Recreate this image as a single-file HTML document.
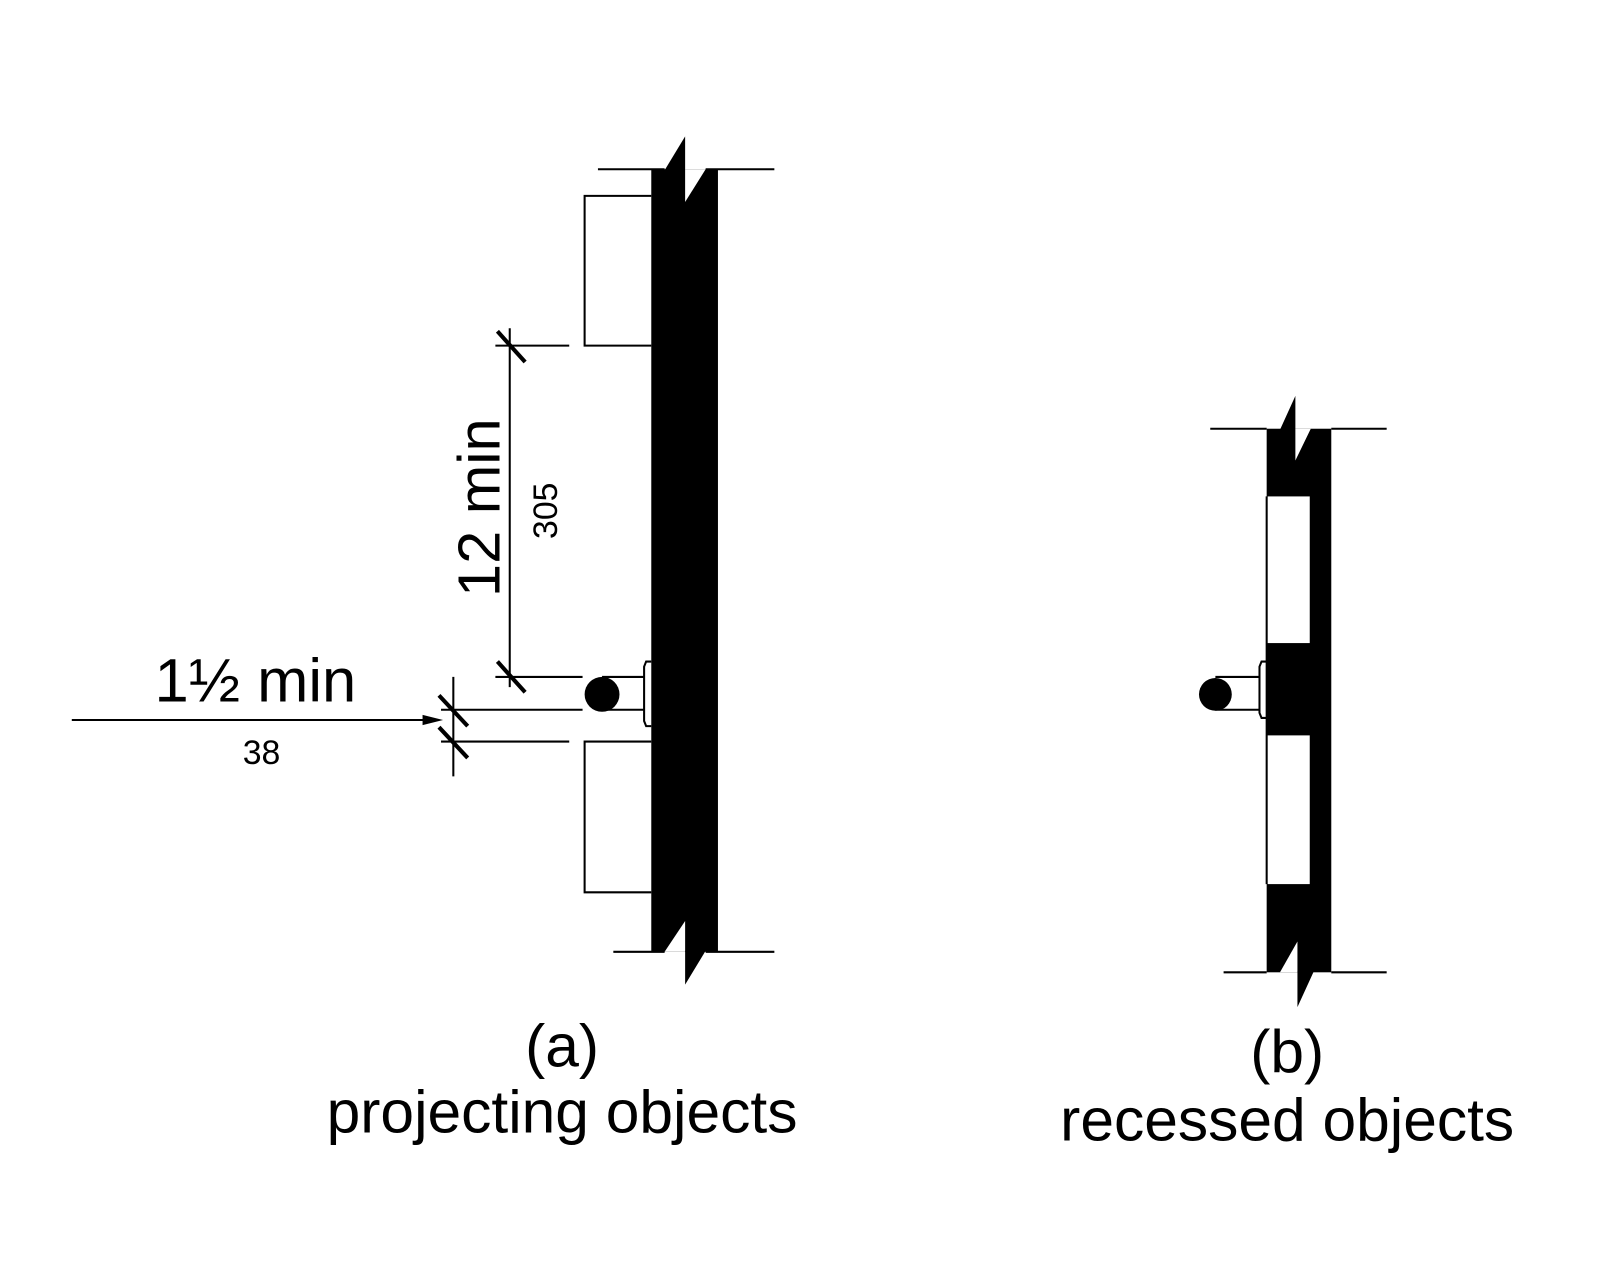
<!DOCTYPE html>
<html><head><style>html,body{margin:0;padding:0;background:#fff}svg{display:block}</style></head>
<body>
<svg width="1600" height="1280" viewBox="0 0 1560 1248" xmlns="http://www.w3.org/2000/svg" font-family="Liberation Sans, Arial, sans-serif">
<rect width="1560" height="1248" fill="#fff"/>
<g stroke="#000" stroke-width="2" fill="none">
<line x1="583" y1="165" x2="648" y2="165"/><line x1="688" y1="165" x2="755" y2="165"/>
<line x1="598" y1="928" x2="648" y2="928"/><line x1="688" y1="928" x2="755" y2="928"/>
<polyline points="635,191 570,191 570,337 635,337"/>
<polyline points="635,723 570,723 570,870 635,870"/>
<path d="M635,645 L630,645 L628,650 L628,703 L630,708 L635,708"/>
<line x1="587" y1="660" x2="628" y2="660"/><line x1="587" y1="692" x2="628" y2="692"/>
<line x1="497" y1="320" x2="497" y2="670"/>
<line x1="483" y1="337" x2="555" y2="337"/>
<line x1="483" y1="660" x2="568" y2="660"/>
<line x1="430" y1="692" x2="568" y2="692"/>
<line x1="430" y1="723" x2="555" y2="723"/>
<line x1="442" y1="660" x2="442" y2="757"/>
<line x1="70" y1="702" x2="420" y2="702"/>
<line x1="1180" y1="418" x2="1235" y2="418"/><line x1="1298" y1="418" x2="1352" y2="418"/>
<line x1="1193" y1="948" x2="1235" y2="948"/><line x1="1298" y1="948" x2="1352" y2="948"/>
<path d="M1235,645 L1230,645 L1228,650 L1228,695 L1230,700 L1235,700"/>
<line x1="1185" y1="660" x2="1228" y2="660"/><line x1="1185" y1="692" x2="1228" y2="692"/>
<line x1="1235" y1="484" x2="1235" y2="862"/>
</g>
<g stroke="#000" stroke-width="4">
<line x1="485" y1="323" x2="512" y2="353"/>
<line x1="485" y1="645" x2="512" y2="675"/>
<line x1="428" y1="678" x2="456" y2="708"/>
<line x1="428" y1="709" x2="456" y2="739"/>
</g>
<polygon points="412,697 432,702 412,707" fill="#000"/>
<rect x="635" y="165" width="65" height="763" fill="#000"/>
<polygon points="648,166 668,133 668,166" fill="#000"/>
<polygon points="668,165 688,165 668,197" fill="#fff"/>
<polygon points="648,928 668,898 668,928" fill="#fff"/>
<polygon points="668,927 688,927 668,960" fill="#000"/>
<circle cx="587" cy="677" r="17" fill="#000"/>
<rect x="1235" y="418" width="63" height="530" fill="#000"/>
<polygon points="1248,419 1263,386 1263,419" fill="#000"/>
<polygon points="1263,418 1278,418 1263,449" fill="#fff"/>
<polygon points="1248,948 1265,918 1265,948" fill="#fff"/>
<polygon points="1265,947 1281,947 1265,982" fill="#000"/>
<rect x="1236" y="484" width="41" height="143" fill="#fff"/>
<rect x="1236" y="717" width="41" height="145" fill="#fff"/>
<circle cx="1185" cy="677" r="16" fill="#000"/>
<g fill="#000" text-anchor="middle">
<text x="0" y="0" font-size="58" transform="translate(487,495) rotate(-90)">12 min</text>
<text x="0" y="0" font-size="33" transform="translate(543,498) rotate(-90)">305</text>
<text x="249" y="684" font-size="60">1½ min</text>
<text x="255" y="745" font-size="33">38</text>
<text x="548" y="1040" font-size="59">(a)</text>
<text x="548" y="1104" font-size="59">projecting objects</text>
<text x="1255" y="1045" font-size="59">(b)</text>
<text x="1255" y="1112" font-size="59">recessed objects</text>
</g>
</svg>
</body></html>
